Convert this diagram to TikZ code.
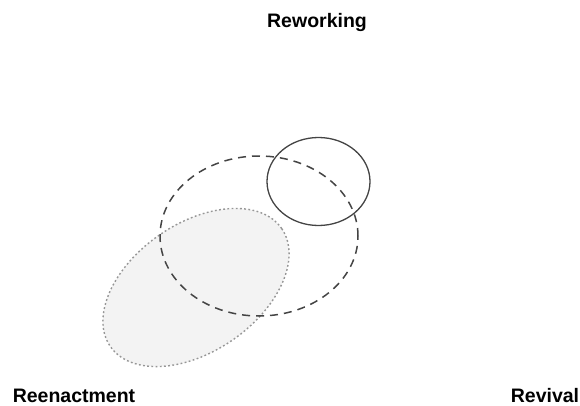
\documentclass[tikz,border=0pt]{standalone}
\usepackage{fontspec}
\setmainfont{Liberation Sans}
\usepackage{xcolor}
\usepackage{tikz}
\definecolor{rimgray}{RGB}{68, 68, 68}
\definecolor{dotgray}{RGB}{150, 150, 150}
\definecolor{fillgray}{RGB}{243, 243, 243}

\begin{document}
\begin{tikzpicture}[x=1pt, y=1pt, lbl/.style={font=\fontsize{19.5}{23}\selectfont\bfseries, anchor=base, inner sep=0pt}]
    \useasboundingbox (0,0) rectangle (580,405);

    % the three modes
    \node[lbl] (rework) at (317,377) {Reworking};
    \node[lbl] (reenact) at (74,3) {Reenactment};
    \node[lbl] (revival) at (545,3) {Revival};

    % overlapping regions
    \fill[fillgray] (196,117.5) ellipse [x radius=104, y radius=64, rotate=34.5];
    \draw[dotgray, line width=1.4pt, dash pattern=on 1.8pt off 2.4pt] (196,117.5) ellipse [x radius=104, y radius=64, rotate=34.5];
    \draw[rimgray, line width=1.5pt, dash pattern=on 8pt off 6pt] (259,169) ellipse [x radius=99, y radius=80];
    \draw[rimgray, line width=1.3pt] (318.5,223.5) ellipse [x radius=51.5, y radius=44];
\end{tikzpicture}
\end{document}
